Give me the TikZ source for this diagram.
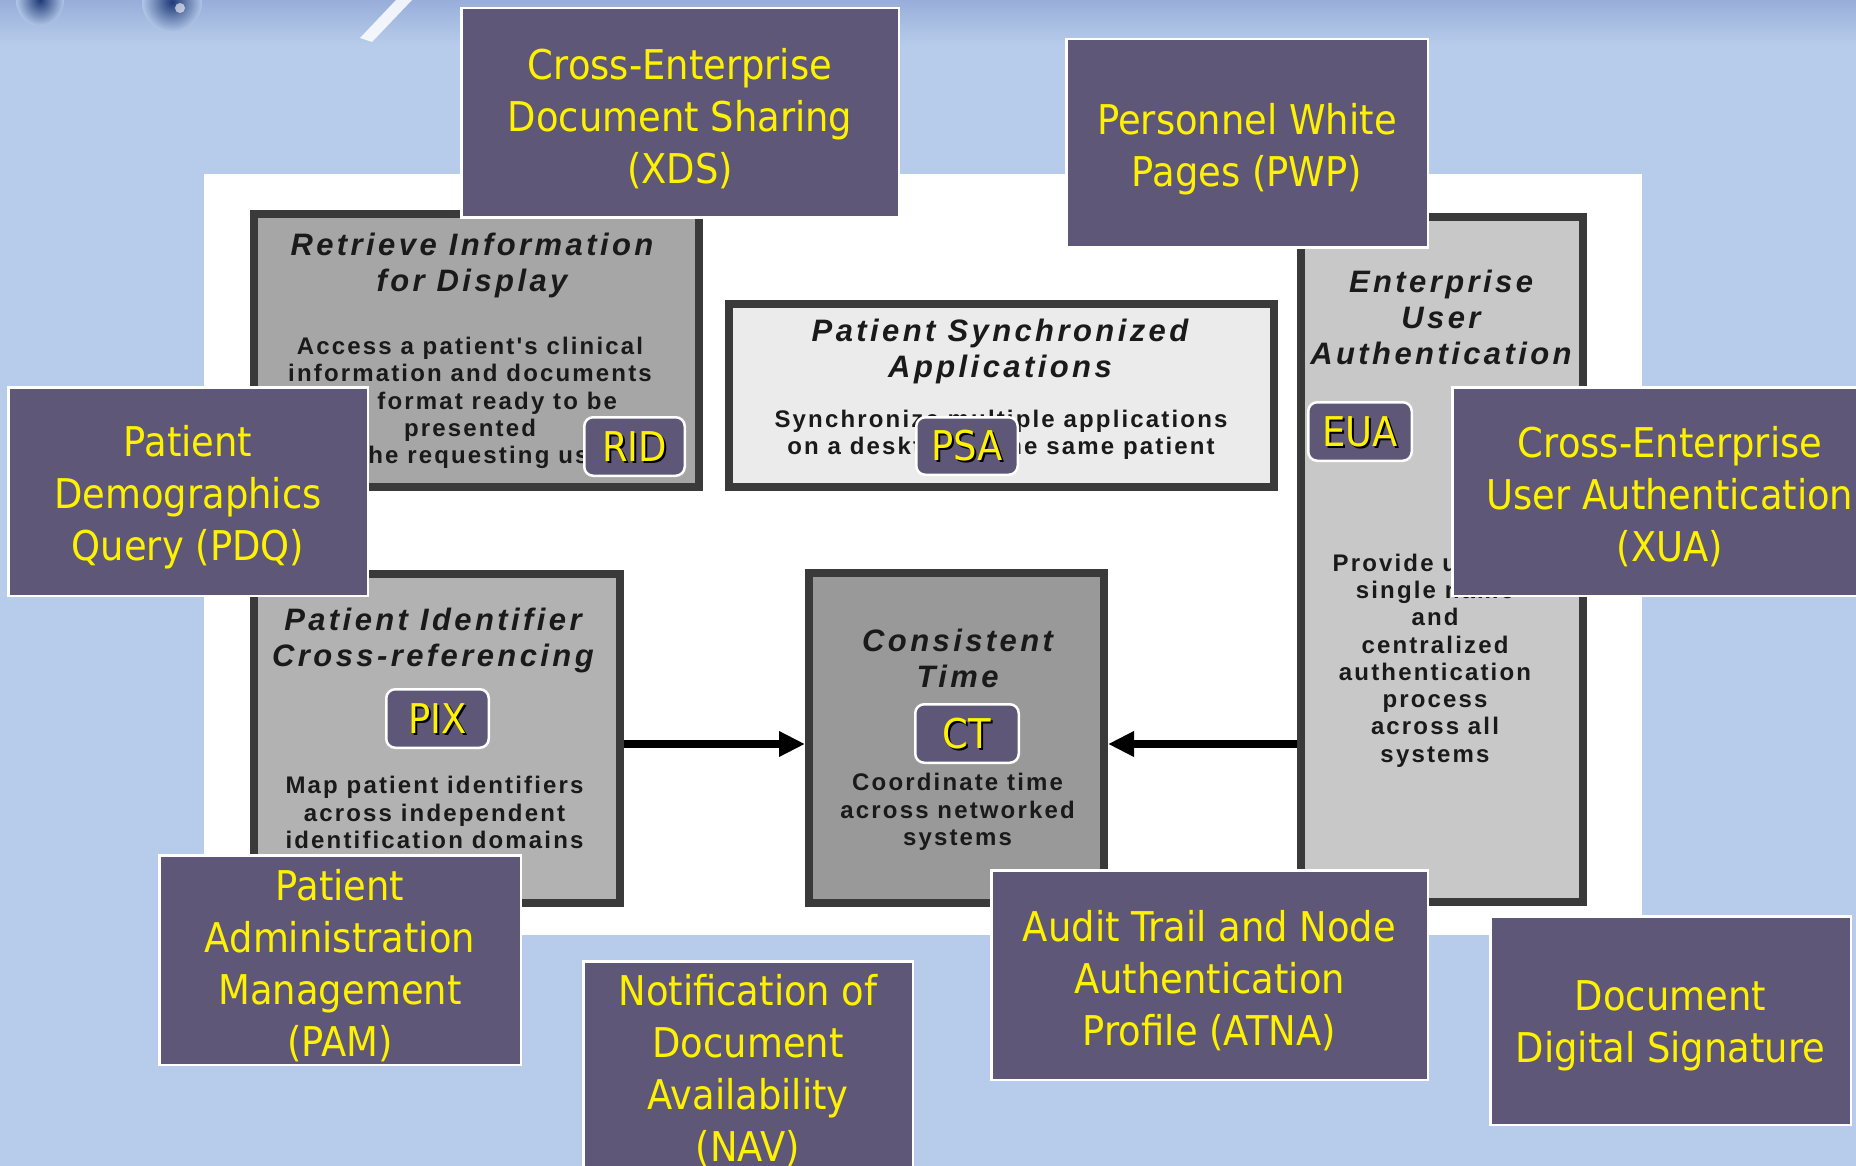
\documentclass[tikz,border=0pt]{standalone}
\usepackage{fontspec}
\setmainfont{DejaVu Sans}
\newfontfamily\yelfnt{DejaVu Sans}[FakeStretch=0.9]
\newfontfamily\ttlfnt{Liberation Sans}[LetterSpace=11]
\newfontfamily\bodyfnt{Liberation Sans}[LetterSpace=9]
\usetikzlibrary{arrows.meta}
\definecolor{bgblue}{HTML}{B7CCEA}
\definecolor{topblue}{HTML}{98AEDA}
\definecolor{blobc}{HTML}{1E3A78}
\definecolor{purp}{HTML}{5E5778}
\definecolor{bord}{HTML}{3A3A3A}
\definecolor{txtc}{HTML}{1A1A1A}
\definecolor{gA}{HTML}{A6A6A6}
\definecolor{gB}{HTML}{EBEBEB}
\definecolor{gC}{HTML}{C8C8C8}
\definecolor{gD}{HTML}{B2B2B2}
\definecolor{gE}{HTML}{999999}
\begin{document}
\begin{tikzpicture}[x=1pt,y=-1pt,
  pbox/.style={draw=white, line width=2.5pt, fill=purp, inner sep=0pt},
  ytxt/.style={text=yellow, font=\yelfnt\fontsize{41}{52}\selectfont, align=center, inner sep=0pt},
  gbox/.style={draw=bord, line width=8pt, inner sep=0pt},
  ttl/.style={text=txtc, font=\ttlfnt\bfseries\itshape\fontsize{31}{36}\selectfont, align=center, inner sep=0pt},
  bdy/.style={text=txtc, font=\bodyfnt\bfseries\fontsize{24}{27.3}\selectfont, align=center, inner sep=0pt},
  lbl/.style={draw=white, line width=2.5pt, fill=purp, rounded corners=9pt, inner sep=0pt},
  ltxt/.style={text=yellow, font=\yelfnt\fontsize{41}{52}\selectfont, inner sep=0pt},
  lsh/.style={ltxt, text=black},
  arr/.style={line width=8pt, -{Triangle[length=26pt,width=24pt]}}
]
\useasboundingbox (0,0) rectangle (1856,1166);
\clip (0,0) rectangle (1856,1166);
% background
\fill[bgblue] (0,0) rectangle (1856,1166);
\shade[top color=topblue, bottom color=bgblue] (0,0) rectangle (1856,45);
\shade[inner color=blobc, outer color=bgblue!80!topblue] (40,0) ellipse [x radius=24, y radius=26];
\shade[inner color=blobc, outer color=bgblue!80!topblue] (172,2) ellipse [x radius=30, y radius=30];
\fill[white, opacity=.6] (180,8) circle (5);
\fill[white, opacity=.85] (396,0) -- (412,0) -- (372,42) -- (360,38) -- cycle;
% white panel
\fill[white] (203.5,174) rectangle (1641.5,935);

% gray boxes
\node[gbox, fill=gA, minimum width=445pt, minimum height=273pt] (ridb) at (476.5,350.5) {};
\node[gbox, fill=gB, minimum width=545pt, minimum height=183pt] (psab) at (1001.5,395.5) {};
\node[gbox, fill=gC, minimum width=282pt, minimum height=685pt] (euab) at (1442,559.5) {};
\node[gbox, fill=gD, minimum width=366pt, minimum height=329pt] (pixb) at (437,738.5) {};
\node[gbox, fill=gE, minimum width=295pt, minimum height=330pt] (ctb) at (956.5,738) {};

% gray box texts
\node[ttl] (ridT) at (472,265) {Retrieve Information\\for Display};
\node[bdy] (ridB) at (470,403) {Access a patient's clinical\\information and documents\\in a format ready to be\\presented\\to the requesting user};
\node[ttl] (psaT) at (1000,351) {Patient Synchronized\\Applications};
\node[bdy] (psaB) at (1001,435) {Synchronize multiple applications\\on a desktop to the same patient};
\node[ttl] (euaT) at (1441,317.5) {Enterprise\\User\\Authentication};
\node[bdy] (euaB) at (1435,660.5) {Provide users a\\single name\\and\\centralized\\authentication\\process\\across all\\systems};
\node[ttl] (pixT) at (433,640.5) {Patient Identifier\\Cross-referencing};
\node[bdy] (pixB) at (434.5,812.5) {Map patient identifiers\\across independent\\identification domains};
\node[ttl] (ctT) at (957.6,658) {Consistent\\Time};
\node[bdy] (ctB) at (957.6,812) {Coordinate time\\across networked\\systems};

% arrows
\coordinate (ay) at (0,744);
\draw[arr] (pixb.east |- ay) -- (ctb.west |- ay);
\draw[arr] (euab.west |- ay) -- (ctb.east |- ay);

% small labels
\node[lbl, minimum width=100.5pt, minimum height=58.5pt] (rid) at (634.5,446.5) {};
\node[lsh] at ([shift={(2,2)}]rid.center) {RID};
\node[ltxt] (ridl) at (rid.center) {RID};
\node[lbl, minimum width=101.5pt, minimum height=57.5pt] (psa) at (967,446) {};
\node[lsh] at ([shift={(2,2)}]psa.center) {PSA};
\node[ltxt] (psal) at (psa.center) {PSA};
\node[lbl, minimum width=103.5pt, minimum height=58.5pt] (eua) at (1360,431.5) {};
\node[lsh] at ([shift={(2,2)}]eua.center) {EUA};
\node[ltxt] (eual) at (eua.center) {EUA};
\node[lbl, minimum width=102.5pt, minimum height=58.5pt] (pix) at (437.5,718.5) {};
\node[lsh] at ([shift={(2,2)}]pix.center) {PIX};
\node[ltxt] (pixl) at (pix.center) {PIX};
\node[lbl, minimum width=103.5pt, minimum height=58.5pt] (ct) at (967,733.5) {};
\node[lsh] at ([shift={(2,2)}]ct.center) {CT};
\node[ltxt] (ctl) at (ct.center) {CT};

% purple profile boxes
\node[pbox, minimum width=437.5pt, minimum height=209.5pt] (xds) at (680,113) {};
\node[ytxt] (xdsT) at (680,118.5) {Cross-Enterprise\\Document Sharing\\(XDS)};
\node[pbox, minimum width=361.5pt, minimum height=208.5pt] (pwp) at (1247,143.5) {};
\node[ytxt] (pwpT) at (1247,149) {Personnel White\\Pages (PWP)};
\node[pbox, minimum width=359.5pt, minimum height=208.5pt] (pdq) at (188,491.5) {};
\node[ytxt] (pdqT) at (188,497) {Patient\\Demographics\\Query (PDQ)};
\node[pbox, minimum width=435.5pt, minimum height=208.5pt] (xua) at (1670,491.5) {};
\node[ytxt] (xuaT) at (1670,497) {Cross-Enterprise\\User Authentication\\(XUA)};
\node[pbox, minimum width=361.5pt, minimum height=209.5pt] (pam) at (340,960) {};
\node[ytxt] (pamT) at (340,966) {Patient\\Administration\\Management\\(PAM)};
\node[pbox, minimum width=329.5pt, minimum height=217.5pt] (nav) at (748,1070) {};
\node[ytxt] (navT) at (748,1071) {Notification of\\Document\\Availability\\(NAV)};
\node[pbox, minimum width=436.5pt, minimum height=209.5pt] (atna) at (1209.5,975) {};
\node[ytxt] (atnaT) at (1209.5,980.5) {Audit Trail and Node\\Authentication\\Profile (ATNA)};
\node[pbox, minimum width=360.5pt, minimum height=208.5pt] (dds) at (1670.5,1020.5) {};
\node[ytxt] (ddsT) at (1670.5,1026) {Document\\Digital Signature};
\end{tikzpicture}
\end{document}
